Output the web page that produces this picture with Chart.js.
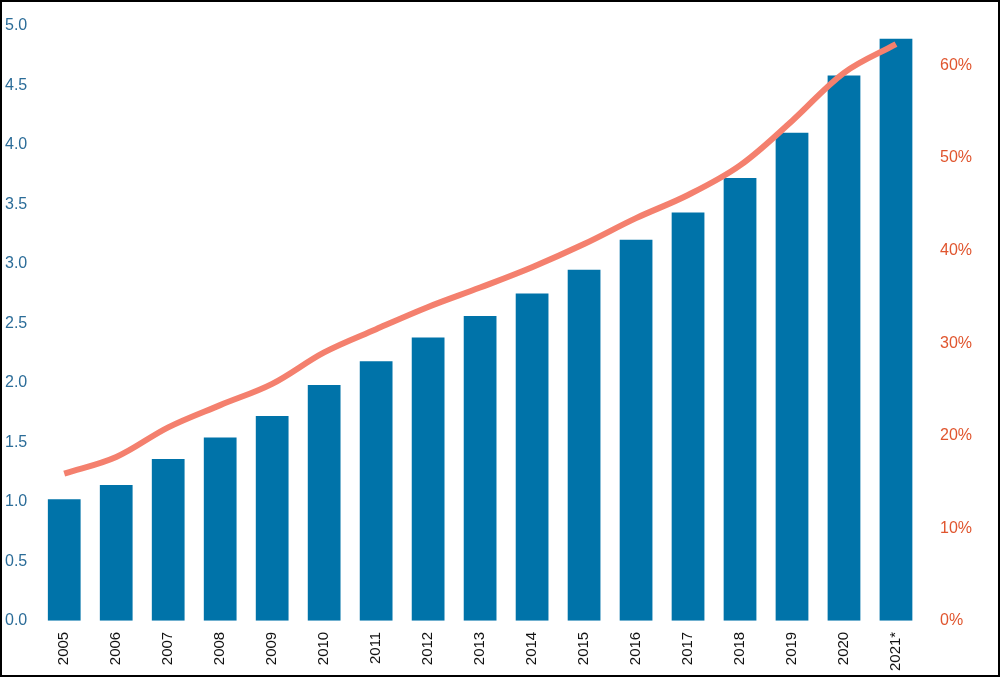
<!DOCTYPE html>
<html>
<head>
<meta charset="utf-8">
<script src="https://cdn.jsdelivr.net/npm/chart.js@4"></script>
<style>
  html, body { margin: 0; padding: 0; background: #fff; }
  .frame { position: absolute; left: 0; top: 0; width: 996px; height: 673px; border: 2px solid #000; }
  .wrap { position: absolute; left: 2px; top: 6px; width: 990px; height: 668px; }
</style>
</head>
<body>
<div class="frame"></div>
<div class="wrap"><canvas id="chart" width="990" height="668"></canvas></div>
<script>
// Categories and series
const years = ['2005', '2006', '2007', '2008', '2009', '2010', '2011', '2012', '2013',
  '2014', '2015', '2016', '2017', '2018', '2019', '2020', '2021*'];
const barValues = [1.02, 1.14, 1.36, 1.54, 1.72, 1.98, 2.18, 2.38, 2.56,
  2.75, 2.95, 3.20, 3.43, 3.72, 4.10, 4.58, 4.89];
const lineValues = [15.9, 17.7, 20.9, 23.3, 25.6, 29.0, 31.5, 33.9, 36.0,
  38.2, 40.7, 43.5, 46.0, 49.2, 54.0, 59.2, 62.3];
const leftTicks = [0, 0.5, 1, 1.5, 2, 2.5, 3, 3.5, 4, 4.5, 5];
const rightTicks = [0, 10, 20, 30, 40, 50, 60];

const ctx = document.getElementById('chart').getContext('2d');
new Chart(ctx, {
  data: {
    labels: years,
    datasets: [
      {
        type: 'line',
        data: lineValues,
        yAxisID: 'y1',
        borderColor: '#f4806e',
        borderWidth: 6,
        pointRadius: 0,
        tension: 0.35,
        order: 0
      },
      {
        type: 'bar',
        data: barValues,
        yAxisID: 'y',
        backgroundColor: '#0073a9',
        barPercentage: 0.63,
        categoryPercentage: 1,
        order: 1
      }
    ]
  },
  options: {
    responsive: false,
    animation: false,
    layout: { padding: { left: 0, right: 10, top: 4, bottom: 0 } },
    plugins: { legend: { display: false }, tooltip: { enabled: false } },
    scales: {
      x: {
        grid: { display: false },
        border: { display: false },
        ticks: {
          color: '#111',
          autoSkip: false,
          font: { family: 'Liberation Sans', size: 15 },
          minRotation: 90,
          maxRotation: 90
        }
      },
      y: {
        position: 'left',
        min: 0,
        max: 5,
        grid: { display: false },
        border: { display: false },
        afterBuildTicks: axis => { axis.ticks = leftTicks.map(v => ({ value: v })); },
        ticks: {
          color: '#2b6c98',
          autoSkip: false,
          font: { family: 'Liberation Sans', size: 16 },
          callback: v => v.toFixed(1)
        }
      },
      y1: {
        position: 'right',
        min: 0,
        max: 64.3,
        grid: { display: false },
        border: { display: false },
        afterBuildTicks: axis => { axis.ticks = rightTicks.map(v => ({ value: v })); },
        ticks: {
          color: '#e0552e',
          autoSkip: false,
          font: { family: 'Liberation Sans', size: 16 },
          padding: 10,
          callback: v => v + '%'
        }
      }
    }
  }
});
</script>
</body>
</html>
